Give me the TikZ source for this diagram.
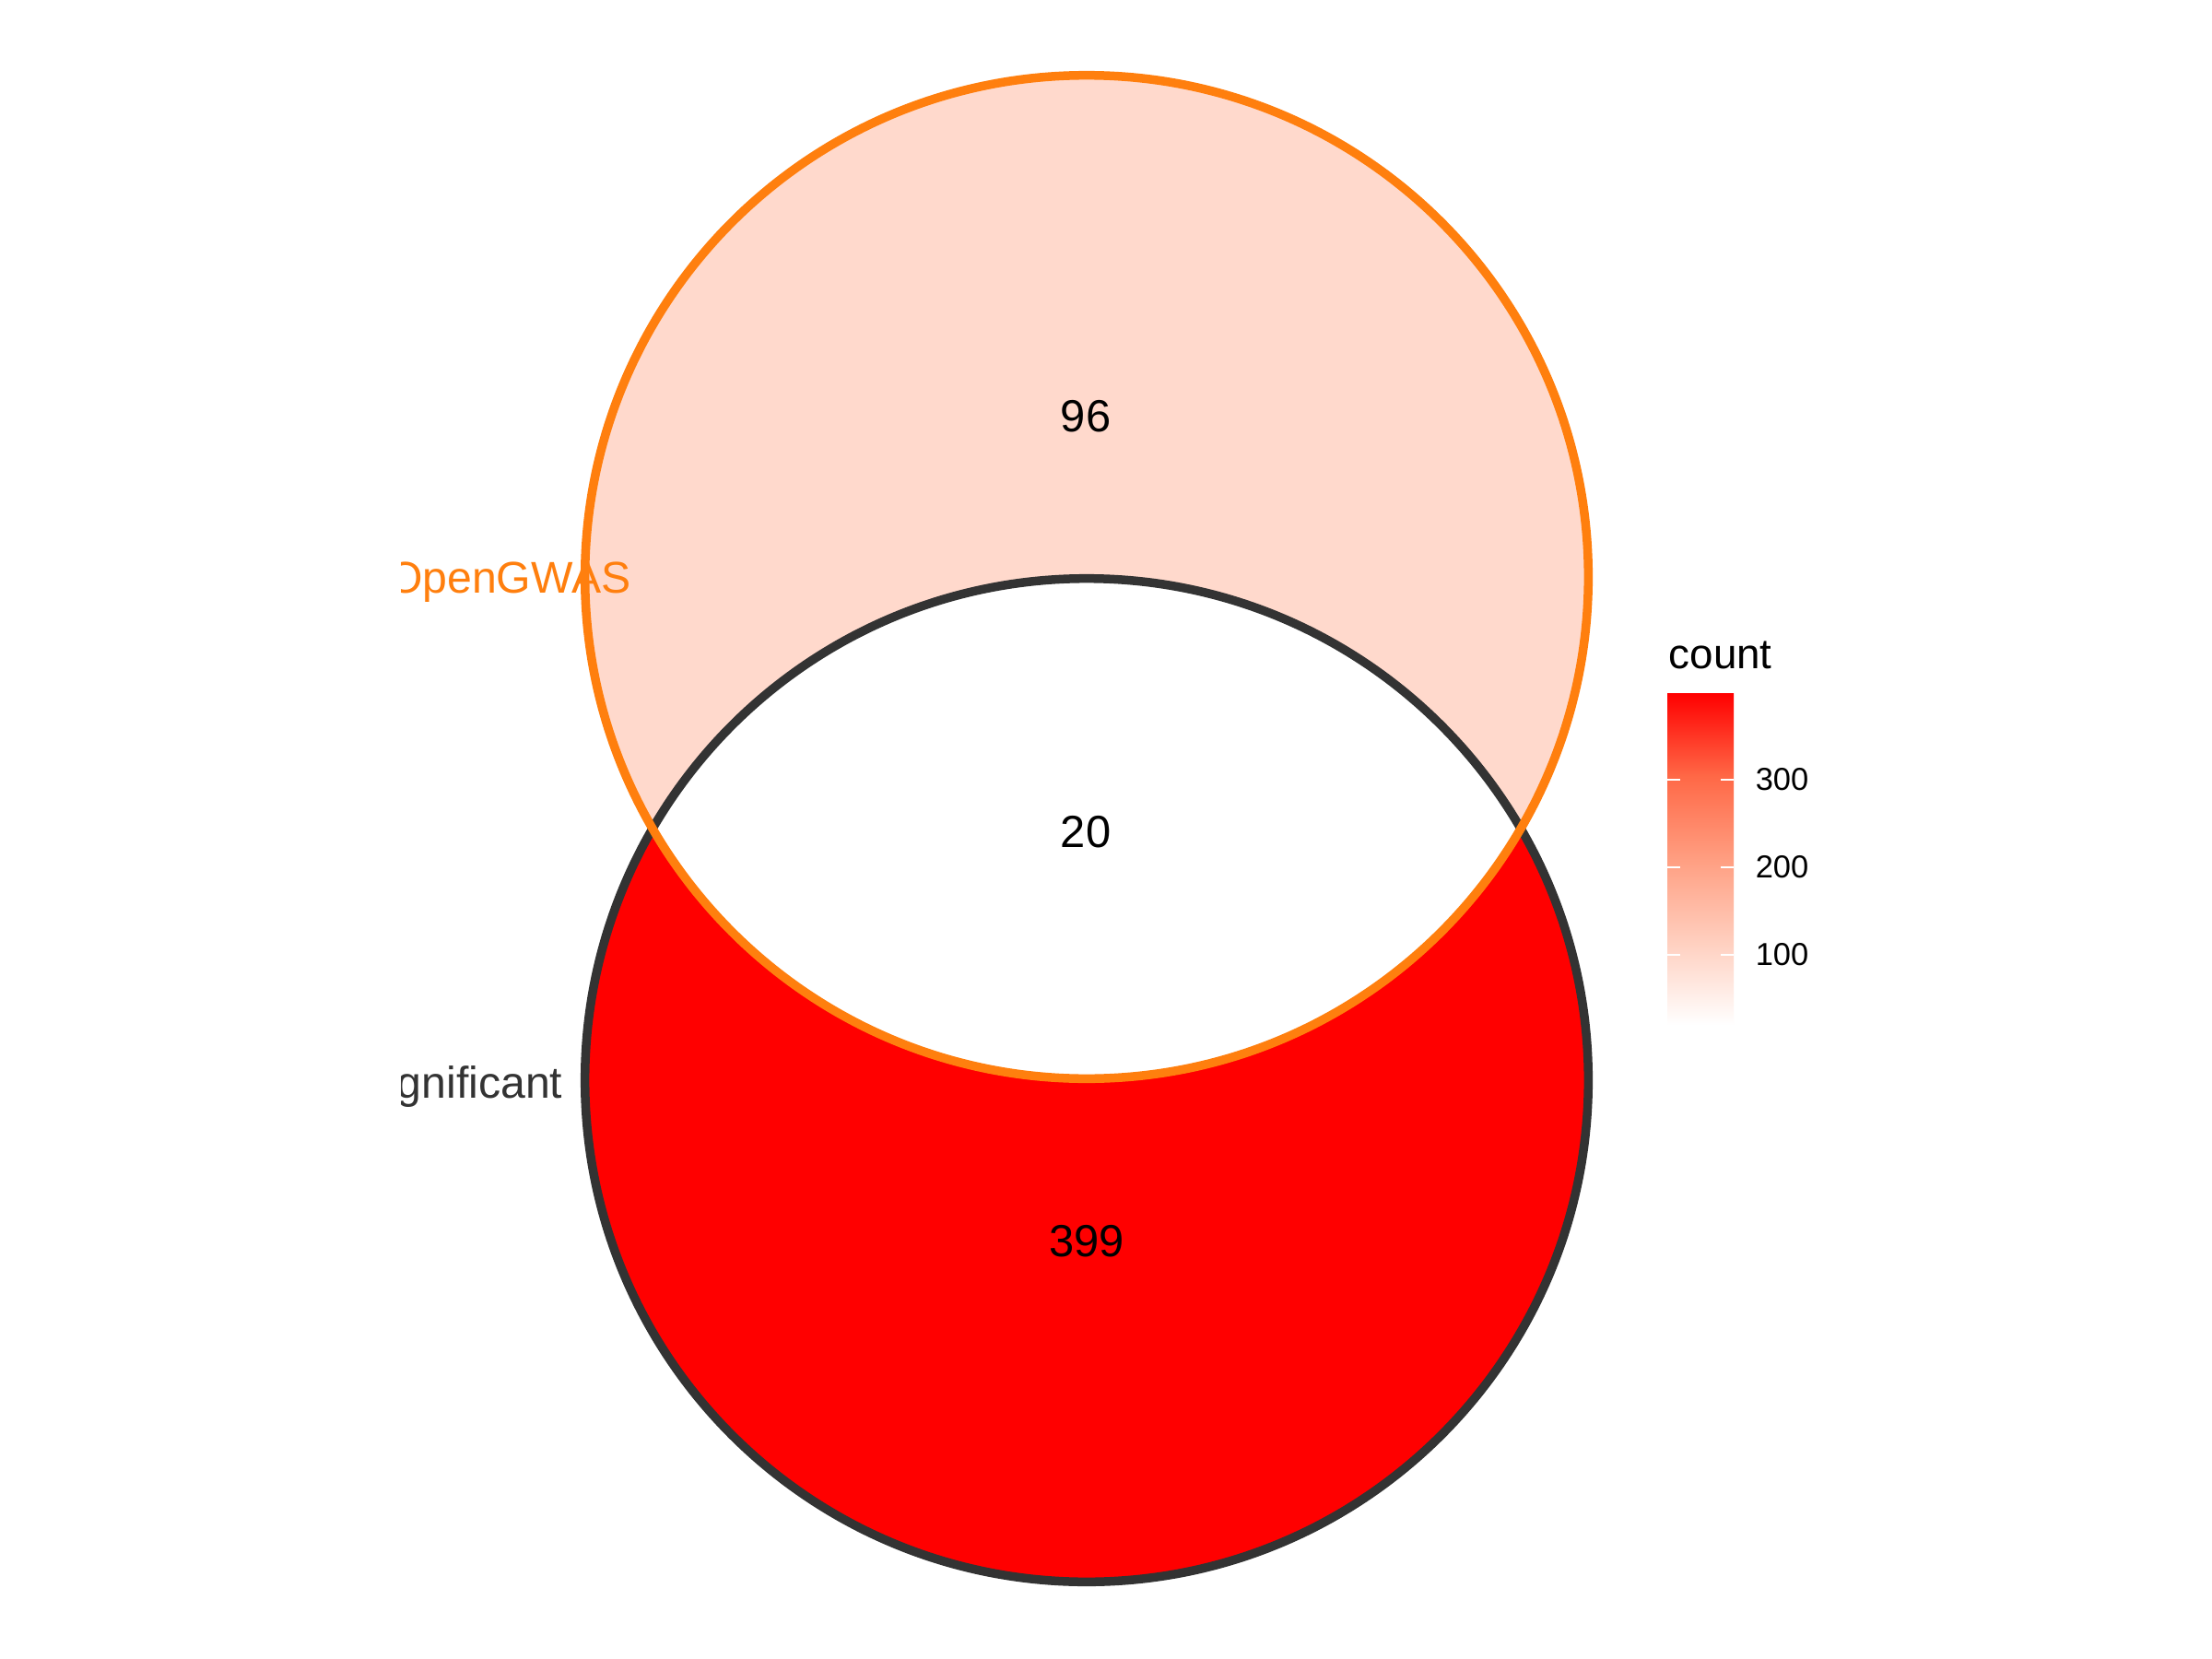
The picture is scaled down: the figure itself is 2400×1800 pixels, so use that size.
\documentclass[tikz,border=0pt]{standalone}
\usepackage{fontspec}
\setmainfont{Liberation Sans}
\usetikzlibrary{positioning}
\definecolor{vnorange}{HTML}{FF7F0E}
\definecolor{vndark}{HTML}{333333}
\definecolor{vnlow}{HTML}{FFD9CC}
\definecolor{vnhigh}{HTML}{FF0000}
% white -> red, interpolated in CIELAB (path box maps to 25bp..75bp)
\pgfdeclareverticalshading{countgrad}{100bp}{%
  rgb(0bp)=(1,1,1); rgb(25bp)=(1,1,1);
  rgb(37.5bp)=(1,0.812,0.749); rgb(50bp)=(1,0.620,0.506);
  rgb(62.5bp)=(1,0.408,0.275); rgb(75bp)=(1,0,0); rgb(100bp)=(1,0,0)}
\tikzset{
  every picture/.style={line join=round},
  setedge/.style={line width=0.095cm},
  setlbl/.style={font=\fontsize{13.7pt}{16pt}\selectfont, inner sep=0pt, anchor=base east},
  cnt/.style={font=\fontsize{13.9pt}{16pt}\selectfont, text=black, inner sep=0pt},
  legtitle/.style={font=\fontsize{13pt}{15pt}\selectfont, inner sep=0pt, anchor=base west},
  ticklbl/.style={font=\fontsize{9.8pt}{11pt}\selectfont, inner sep=0pt, anchor=east},
  legtick/.style={draw=white, line width=0.02cm},
}

\begin{document}
\begin{tikzpicture}[x=0.01cm, y=-0.01cm]
\useasboundingbox[fill=white] (0,0) rectangle (2400,1800);

% ---- Set centres
\coordinate (gwas) at (1179, 626);
\coordinate (sig)  at (1179, 1172);

% ---- Region fills
\fill[vnlow]  (gwas) circle[radius=5.44cm];
\fill[vnhigh] (sig)  circle[radius=5.44cm];
\begin{scope}
  \clip (gwas) circle[radius=5.44cm];
  \fill[white] (sig) circle[radius=5.44cm];
\end{scope}

% ---- Set outlines (orange on top)
\draw[setedge, vndark]   (sig)  circle[radius=5.44cm];
\draw[setedge, vnorange] (gwas) circle[radius=5.44cm];

% ---- Region counts
\node[cnt] (onlygwas) at (1178, 452)  {96};
\node[cnt] (both)     at (1178, 903)  {20};
\node[cnt] (onlysig)  at (1179, 1347) {399};

% ---- Set names, cut at the panel edge
\begin{scope}
  \clip (435,0) rectangle (2400,1800);
  \node[setlbl, text=vnorange] (gwaslbl) at (685, 643)  {OpenGWAS};
  \node[setlbl, text=vndark]   (siglbl)  at (611, 1191) {Significant};
\end{scope}

% ---- Legend
\node[legtitle] (legtitle) at (1810, 725) {count};
\shade[shading=countgrad] (1809, 752) rectangle (1881, 1112);
\foreach \v/\y in {300/846, 200/941, 100/1036} {
  \draw[legtick] (1809, \y) -- (1823, \y);
  \draw[legtick] (1867, \y) -- (1881, \y);
  \node[ticklbl] (tick\v) at (1963, \y) {\v};
}

\end{tikzpicture}
\end{document}
